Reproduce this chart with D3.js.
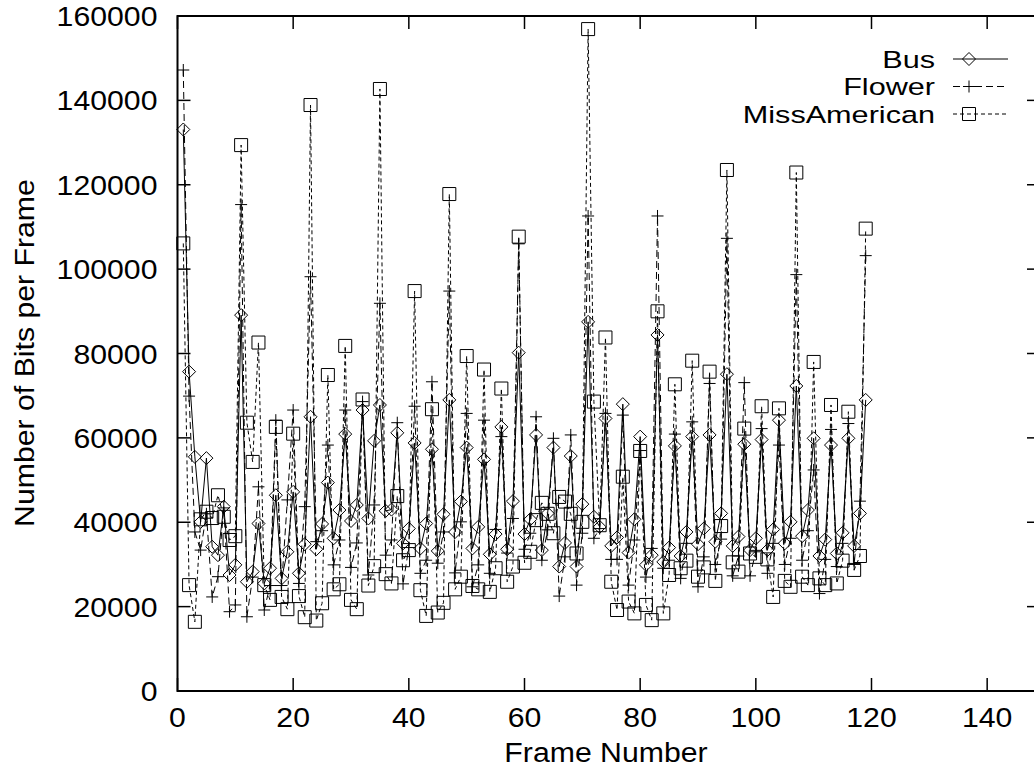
<!DOCTYPE html>
<html>
<head>
<meta charset="utf-8">
<script src="https://cdn.jsdelivr.net/npm/d3@7"></script>
<style>
  body { margin: 0; background: #fff; }
  text { font-family: "Liberation Sans", Arial, sans-serif; fill: #000; }
</style>
</head>
<body>
<div id="chart"></div>
<script>
// Bits per frame for the three test sequences (frames 1..119)
var busBits = [133100,75700,55500,40100,55200,34200,32200,43700,27500,29900,
  89100,25900,28300,39700,25500,29100,46400,26700,33000,47200,
  27900,34800,65000,33600,39600,49400,36200,42900,60900,40300,
  44100,66600,40900,59300,67800,42700,43000,61200,35000,38500,
  58800,33800,39700,57300,33200,41900,69000,37700,44900,57700,
  33800,38900,54900,32400,37200,62600,33600,45000,80200,37200,
  40700,60700,33400,42100,57700,29500,35100,55700,29500,44300,
  87500,41300,38900,64600,34400,36400,68000,32800,40700,60300,
  29900,32200,84400,30600,34000,58100,32000,37700,60300,34800,
  38500,60700,35400,42100,75100,34400,36600,58500,33400,36200,
  59600,33400,38300,64200,35000,40100,72300,36700,42900,59900,
  32000,35900,58300,32600,37500,59900,34400,42100,69000];

var flowerBits = [147200,69900,37700,33400,42000,22300,27100,43400,18800,20400,
  115300,17600,27000,48400,19200,25000,64200,25000,45300,66600,
  25500,43700,98200,35400,38000,58300,29900,35800,66600,29300,
  35100,68600,27500,44100,91900,32200,35800,63600,25400,34000,
  67500,27900,31000,73300,30300,37700,94800,28000,40100,65800,
  24700,29900,64200,27900,38300,60300,32700,40900,106000,33600,
  37400,65000,31000,38200,59900,22500,31800,60700,25100,37400,
  112600,36200,38500,65800,31200,31200,65400,25100,35800,57000,
  27000,33800,112600,29100,31000,60900,26700,35000,63800,24700,
  31800,72900,30000,36000,107300,27300,32000,73100,27300,33000,
  62200,27900,35000,58300,30000,36200,98700,31000,38000,52400,
  23100,31200,62000,29500,35000,63400,30000,45000,103200];

var missAmericanBits = [106100,25100,16400,40700,42500,41000,46400,41300,35800,36700,
  129400,63600,54300,82600,25100,21600,62600,22300,19400,61000,
  22500,17500,138900,16700,20800,74900,24100,25300,81800,21600,
  19400,69100,25000,29600,142700,27700,25500,46200,31000,33400,
  94800,23900,17800,66800,18600,20900,117800,24100,27100,79400,
  24900,24100,76200,23500,29100,71700,25900,29500,107700,30400,
  33000,40500,44600,42000,37400,46000,44900,42000,32600,40100,
  156900,68600,39300,83800,25900,19200,50800,21200,18400,56900,
  20400,16800,90000,18400,27500,72700,29100,30900,78300,27100,
  29300,75700,26100,39100,123500,30500,28300,62200,32600,31800,
  67500,31200,22300,67000,26100,24700,122900,27100,25100,78000,
  26700,25100,67800,25500,30900,66200,28700,32000,109600];

var seriesNames = ["Bus", "Flower", "MissAmerican"];
var xTicks = [0, 20, 40, 60, 80, 100, 120, 140];
var yTicks = [0, 20000, 40000, 60000, 80000, 100000, 120000, 140000, 160000];

var width = 1034, height = 771;
var plot = { left: 177.5, right: 1045, top: 16, bottom: 691 };
var stretch = 1.12; // the original lettering is a bit wider than Liberation Sans

var svg = d3.select("#chart").append("svg")
  .attr("width", width)
  .attr("height", height);

var x = d3.scaleLinear().domain([0, 150]).range([plot.left, plot.right]);
var y = d3.scaleLinear().domain([0, 160000]).range([plot.bottom, plot.top]);

// series styles (gnuplot-like black lines)
var styles = [
  { data: busBits, dash: null, marker: "diamond" },
  { data: flowerBits, dash: "7,4", marker: "plus" },
  { data: missAmericanBits, dash: "4,3", marker: "square" }
];

function markerPath(kind, cx, cy) {
  if (kind === "diamond") {
    var r = 6.5;
    return "M" + cx + "," + (cy - r) + "L" + (cx + r) + "," + cy + "L" + cx + "," + (cy + r) + "L" + (cx - r) + "," + cy + "Z";
  } else if (kind === "square") {
    var s = 6.5;
    return "M" + (cx - s) + "," + (cy - s) + "h" + (2 * s) + "v" + (2 * s) + "h" + (-2 * s) + "Z";
  } else {
    var p = 6;
    return "M" + (cx - p) + "," + cy + "h" + (2 * p) + "M" + cx + "," + (cy - p) + "v" + (2 * p);
  }
}

// ticks on all four sides (inward), like gnuplot mirror ticks
var tickLen = 13;
var axes = svg.append("g").attr("stroke", "#000").attr("stroke-width", 1.5);

xTicks.forEach(function (t) {
  axes.append("line").attr("x1", x(t)).attr("x2", x(t)).attr("y1", plot.bottom).attr("y2", plot.bottom - tickLen);
  axes.append("line").attr("x1", x(t)).attr("x2", x(t)).attr("y1", plot.top).attr("y2", plot.top + tickLen);
});
yTicks.forEach(function (t) {
  axes.append("line").attr("x1", plot.left).attr("x2", plot.left + tickLen).attr("y1", y(t)).attr("y2", y(t));
  // right-hand mirror ticks, only their inner ends fall inside the picture
  axes.append("line").attr("x1", plot.right).attr("x2", plot.right - 18).attr("y1", y(t)).attr("y2", y(t));
});

svg.selectAll(".xlabel")
  .data(xTicks)
  .enter().append("text")
  .attr("class", "xlabel")
  .attr("transform", function (d) { return "translate(" + x(d) + "," + (plot.bottom + 36) + ") scale(" + stretch + ",1)"; })
  .attr("text-anchor", "middle")
  .style("font-size", "27px")
  .text(function (d) { return d; });

svg.selectAll(".ylabel")
  .data(yTicks)
  .enter().append("text")
  .attr("class", "ylabel")
  .attr("transform", function (d) { return "translate(" + (plot.left - 20) + "," + (y(d) + 10) + ") scale(" + stretch + ",1)"; })
  .attr("text-anchor", "end")
  .style("font-size", "27px")
  .text(function (d) { return d; });

svg.append("text")
  .attr("transform", "translate(606,762) scale(" + stretch + ",1)")
  .attr("text-anchor", "middle")
  .style("font-size", "27px")
  .text("Frame Number");

svg.append("text")
  .attr("transform", "translate(34,353) rotate(-90) scale(" + stretch + ",1)")
  .attr("text-anchor", "middle")
  .style("font-size", "27px")
  .text("Number of Bits per Frame");

// draw the three series
var line = d3.line()
  .x(function (d, i) { return x(i + 1); })
  .y(function (d) { return y(d); });

styles.forEach(function (s) {
  var g = svg.append("g");
  g.append("path")
    .datum(s.data)
    .attr("d", line)
    .attr("fill", "none")
    .attr("stroke", "#000")
    .attr("stroke-width", 1)
    .attr("stroke-dasharray", s.dash);
  g.selectAll("path.pt")
    .data(s.data)
    .enter().append("path")
    .attr("class", "pt")
    .attr("d", function (d, i) { return markerPath(s.marker, x(i + 1), y(d)); })
    .attr("fill", "none")
    .attr("stroke", "#000")
    .attr("stroke-width", 1);
});

// legend, top right
var legendY = [59, 86.5, 114];
seriesNames.forEach(function (name, i) {
  var s = styles[i];
  svg.append("text")
    .attr("transform", "translate(935," + (legendY[i] + 8.5) + ") scale(1.25,1)")
    .attr("text-anchor", "end")
    .style("font-size", "24.5px")
    .text(name);
  svg.append("line")
    .attr("x1", 953).attr("x2", 1008)
    .attr("y1", legendY[i]).attr("y2", legendY[i])
    .attr("stroke", "#000")
    .attr("stroke-width", 1)
    .attr("stroke-dasharray", s.dash);
  svg.append("path")
    .attr("d", markerPath(s.marker, 969, legendY[i]))
    .attr("fill", "none")
    .attr("stroke", "#000")
    .attr("stroke-width", 1);
});

// plot border
svg.append("rect")
  .attr("x", plot.left).attr("y", plot.top)
  .attr("width", plot.right - plot.left).attr("height", plot.bottom - plot.top)
  .attr("fill", "none")
  .attr("stroke", "#000")
  .attr("stroke-width", 2);
</script>
</body>
</html>
